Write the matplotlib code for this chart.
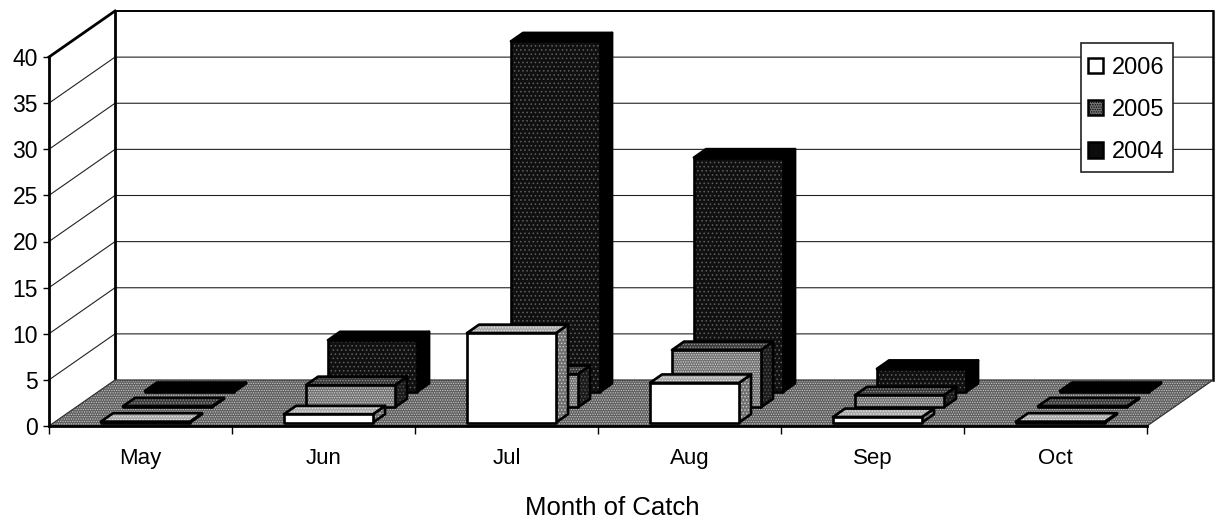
import matplotlib
matplotlib.use("Agg")
import matplotlib.pyplot as plt
from matplotlib.patches import Polygon, Patch, Rectangle

plt.rcParams['font.family'] = ['Liberation Sans', 'DejaVu Sans']
plt.rcParams['hatch.linewidth'] = 0.6

months = ['May', 'Jun', 'Jul', 'Aug', 'Sep', 'Oct']
y2006 = [0.1, 0.9, 9.7, 4.3, 0.6, 0.1]
y2005 = [0.1, 2.4, 3.6, 6.2, 1.3, 0.1]
y2004 = [0.1, 5.6, 38.0, 25.4, 2.5, 0.1]
series = [('2004', y2004, 2), ('2005', y2005, 1), ('2006', y2006, 0)]
yticks = list(range(0, 45, 5))

W, H = 1225, 523
L, R, T, B = 49, 1147, 57, 426
fig = plt.figure(figsize=(W / 100, H / 100), dpi=100, facecolor='white')
ax = fig.add_axes([L / W, 1 - B / H, (R - L) / W, (B - T) / H])
ax.set_xlim(0, 6)
ax.set_ylim(0, 40)
ax.patch.set_visible(False)

DX = 66 / 183 / 3   # category units per depth row
DY = 46 / 9.225 / 3  # value units per depth row
BAR_W = 89 / 183
BAR_D = 0.55        # fraction of row

def P(u, d, v):
    return (u + d * DX, v + d * DY)

def face(pts, fc, hatch=None, hc='white', z=1, lw=1.9, ec='black'):
    ax.add_patch(Polygon(pts, closed=True, facecolor=fc, edgecolor=hc if hatch else 'none',
                         hatch=hatch, lw=0, zorder=z, clip_on=False))
    if lw:
        ax.add_patch(Polygon(pts, closed=True, fill=False, edgecolor=ec, lw=lw,
                             zorder=z, clip_on=False, joinstyle='round'))

# walls and gridlines
for v in yticks[1:-1]:
    ax.plot(*zip(P(0, 0, v), P(0, 3, v), P(6, 3, v)), color='#222222', lw=0.8, zorder=0.5, clip_on=False)
ax.plot(*zip(P(0, 0, 40), P(0, 3, 40)), color='black', lw=2.0, zorder=0.6, clip_on=False)
ax.plot(*zip(P(0, 3, 0), P(0, 3, 40)), color='black', lw=2.0, zorder=0.6, clip_on=False)
ax.plot(*zip(P(0, 3, 40), P(6, 3, 40)), color='black', lw=1.4, zorder=0.6, clip_on=False)
ax.plot(*zip(P(6, 3, 0), P(6, 3, 40)), color='black', lw=1.8, zorder=0.6, clip_on=False)

# floor
face([P(0, 0, 0), P(6, 0, 0), P(6, 3, 0), P(0, 3, 0)], '#5f5f5f', '.......', '#c8c8c8', z=0.8, lw=0.9, ec='#333333')

# colours: front, top, side, hatch, hatch colour
styles = {
    '2004': ('#101010', '#000000', '#000000', '....', '#606060'),
    '2005': ('#707070', '#3a3a3a', '#1c1c1c', '.......', '#d8d8d8'),
    '2006': ('#ffffff', '#a8a8a8', '#707070', None, None),
}

z = 2
for name, vals, row in series:
    fc, tc, sc, h, hc = styles[name]
    d0 = row + (1 - BAR_D) / 2
    d1 = d0 + BAR_D
    for i, v in reversed(list(enumerate(vals))):
        u0 = i + 0.5 - BAR_W / 2
        u1 = i + 0.5 + BAR_W / 2
        face([P(u1, d0, 0), P(u1, d1, 0), P(u1, d1, v), P(u1, d0, v)], sc,
             None if name == '2004' else '.....', '#d0d0d0' if name == '2006' else '#555555', z=z)
        face([P(u0, d0, v), P(u1, d0, v), P(u1, d1, v), P(u0, d1, v)], tc,
             None if name == '2004' else '......', '#e8e8e8' if name == '2006' else '#999999', z=z)
        face([P(u0, d0, 0), P(u1, d0, 0), P(u1, d0, v), P(u0, d0, v)], fc, h, hc if hc else 'white', z=z)
        z += 0.01
    z += 1

# axes
for s in ['top', 'right']:
    ax.spines[s].set_visible(False)
ax.spines['left'].set_linewidth(2.0)
ax.spines['bottom'].set_linewidth(2.0)
ax.spines['left'].set_zorder(1)
ax.spines['bottom'].set_zorder(1)
ax.set_yticks(yticks)
ax.tick_params(axis='y', length=4, width=1, labelsize=16.5, pad=4)
ax.set_xticks(range(7))
ax.set_xticklabels([])
ax.tick_params(axis='x', which='major', length=6, width=1)
ax.set_xticks([i + 0.5 for i in range(6)], minor=True)
ax.set_xticklabels(months, minor=True, fontsize=16)
ax.tick_params(axis='x', which='minor', length=0, pad=16)
ax.set_xlabel('Month of Catch', fontsize=18.5)
ax.xaxis.set_label_coords((612 - L) / (R - L), -(508 - B) / (B - T), transform=ax.transAxes)
ax.xaxis.label.set_verticalalignment('center')

# legend: fixed-size frame with a frameless legend on top of it
ax.add_patch(Rectangle((1081 / W, 1 - 172 / H), 92 / W, 129 / H, transform=fig.transFigure,
                       facecolor='white', edgecolor='#222222', lw=1.2, zorder=49, clip_on=False))
handles = [Patch(facecolor='white', edgecolor='black', lw=1.8, label='2006'),
           Patch(facecolor='#707070', edgecolor='black', lw=1.8, hatch='.......', label='2005'),
           Patch(facecolor='#0c0c0c', edgecolor='black', lw=1.8, label='2004')]
leg = ax.legend(handles=handles, loc='upper left', bbox_to_anchor=(1081 / W, 1 - 50 / H),
                bbox_transform=fig.transFigure, fontsize=17, frameon=False,
                borderaxespad=0, borderpad=0.3,
                labelspacing=0.85, handlelength=0.62, handleheight=0.62, handletextpad=0.4)
leg.set_zorder(50)

fig.savefig('out.png', dpi=100, facecolor='white')
